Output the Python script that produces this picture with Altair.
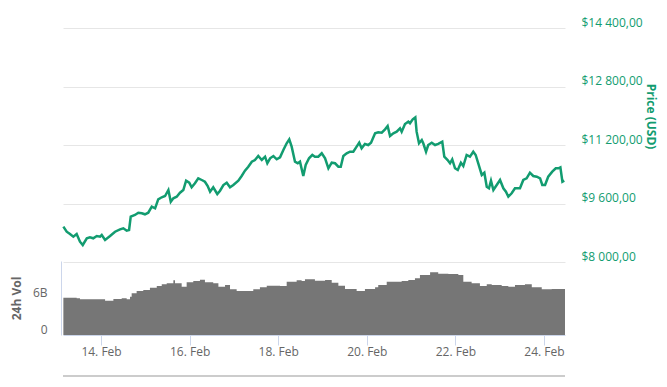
import altair as alt
import pandas as pd

# hours after 2018-02-13 00:00 UTC
price_hours = [3.6, 5.4, 7.2, 9.0, 10.8, 12.6, 14.1, 16.3, 18.0, 19.8, 21.7, 23.5, 24.4, 26.2, 28.9,
               31.6, 34.3, 36.1, 37.9, 39.2, 40.1, 42.4, 44.2, 46.1, 47.8, 49.6, 51.5, 53.3, 55.0,
               56.9, 58.7, 60.5, 61.8, 63.2, 65.0, 66.8, 68.6, 70.1, 71.8, 73.1, 74.9, 76.7, 78.6,
               80.3, 81.8, 83.1, 84.8, 87.0, 88.5, 90.3, 92.1, 93.9, 95.7, 98.4, 100.2, 102.0, 103.8,
               105.7, 107.4, 109.2, 111.1, 112.9, 114.1, 115.6, 117.4, 119.2, 121.0, 122.8, 124.6,
               126.0, 127.3, 129.1, 130.6, 131.8, 133.6, 134.9, 136.7, 138.5, 139.9, 141.7, 143.6,
               145.4, 147.2, 149.0, 150.8, 152.6, 153.9, 155.3, 157.1, 158.9, 160.7, 162.5, 163.9,
               165.2, 167.0, 168.8, 170.3, 172.5, 174.2, 176.1, 177.9, 179.3, 180.6, 182.4, 184.2,
               186.0, 186.9, 188.7, 190.5, 191.4, 192.9, 194.3, 195.0, 196.3, 197.8, 198.6, 200.1,
               201.3, 203.2, 205.0, 206.7, 208.9, 210.0, 211.8, 213.1, 214.3, 215.8, 217.3, 219.0,
               220.3, 222.1, 223.9, 225.7, 227.0, 228.4, 230.3, 231.7, 233.0, 234.2, 235.3, 236.6,
               238.4, 240.2, 242.0, 243.4, 244.7, 246.5, 248.3, 251.0, 252.8, 254.6, 256.4, 258.2,
               260.1, 261.9, 263.1, 264.6, 266.3, 268.5, 270.4, 271.8, 272.9, 274.0, 275.0]
price_usd = [8966, 8829, 8766, 8692, 8766, 8555, 8465, 8648, 8676, 8648, 8711, 8692, 8739, 8602, 8711,
             8829, 8894, 8922, 8856, 8875, 9239, 9286, 9348, 9332, 9305, 9348, 9513, 9469, 9715,
             9770, 9805, 9969, 9649, 9742, 9786, 9895, 9969, 10224, 10169, 10043, 10153, 10289, 10243,
             10196, 10079, 9923, 10043, 9860, 9950, 10106, 10169, 10043, 10106, 10224, 10352, 10497, 10607,
             10743, 10790, 10899, 10790, 10880, 10700, 10836, 10899, 10809, 10864, 11063, 11247,
             11356, 11154, 10743, 10700, 10743, 10352, 10653, 10836, 10927, 10880, 10880, 10973,
             10836, 10563, 10716, 10700, 10607, 10607, 10899, 10973, 11017, 11017, 11154, 11263,
             11110, 11227, 11200, 11263, 11520, 11547, 11537, 11629, 11720, 11446, 11520, 11564,
             11657, 11564, 11774, 11837, 11794, 11903, 11958, 11564, 11247, 11337, 11247, 11017,
             11200, 11263, 11200, 11230, 11290, 10880, 10790, 10700, 10809, 10563, 10516, 10716,
             10626, 10927, 10880, 11017, 10927, 10700, 10380, 10442, 10060, 10016, 10224, 9969,
             10106, 10243, 10016, 9923, 9786, 9879, 10016, 10016, 10243, 10289, 10442, 10352,
             10333, 10289, 10106, 10106, 10333, 10470, 10563, 10563, 10590, 10196, 10224]

vol_hours = [3.6, 10.8, 12.6, 19.8, 26.2, 30.7, 35.2, 37.9, 39.7, 40.6, 43.3, 46.9, 50.5, 54.2, 56.9,
             59.6, 63.2, 64.1, 67.7, 70.4, 74.0, 77.6, 80.3, 84.8, 87.6, 91.2, 93.9, 97.5, 101.1,
             106.5, 110.1, 113.8, 121.0, 124.6, 130.0, 132.7, 134.5, 139.9, 145.4, 149.0, 152.6,
             156.2, 162.5, 167.0, 172.5, 174.2, 178.8, 186.9, 190.5, 194.1, 196.8, 202.3, 206.7,
             212.2, 217.6, 220.3, 224.8, 229.3, 233.0, 235.7, 241.1, 244.7, 248.3, 253.7, 257.4,
             262.8, 268.2, 275.4]
vol_billion = [6.20, 6.10, 5.93, 5.93, 5.70, 5.98, 6.10, 5.93, 6.37, 6.93, 7.31, 7.48, 7.86, 8.14, 8.43,
               8.59, 9.09, 8.59, 8.03, 8.76, 8.97, 9.19, 8.76, 8.59, 8.03, 8.31, 7.60, 7.31, 7.31,
               7.60, 7.93, 8.19, 8.14, 8.86, 9.09, 8.97, 9.26, 9.02, 9.14, 8.69, 8.19,
               7.65, 7.31, 7.65, 7.93, 8.31, 8.86, 8.97, 9.14, 9.42, 9.97, 10.42, 10.19,
               10.14, 9.97, 8.86, 8.59, 8.14, 8.43, 8.31, 8.14, 8.03, 8.31, 8.43, 7.93,
               7.60, 7.65, 7.65]

price_ticks = [8000, 9600, 11200, 12800, 14400]
vol_ticks = [0, 6e9]
date_ticks = [14, 16, 18, 20, 22, 24]

START_MS = pd.Timestamp("2018-02-13T00:00:00Z").value // 10**6
H = 3600 * 1000

price_df = pd.DataFrame({"t": [START_MS + h * H for h in price_hours], "price": price_usd})
vol_df = pd.DataFrame({"t": [START_MS + h * H for h in vol_hours],
                       "vol": [v * 1e9 for v in vol_billion]})

x_domain = [START_MS + 3.4 * H, START_MS + 275.4 * H]
x_scale = alt.Scale(type="utc", domain=x_domain, nice=False)
x_axis = alt.Axis(
    values=[alt.DateTime(year=2018, month=2, date=d, utc=True) for d in date_ticks],
    labelExpr="replace(utcFormat(datum.value, '%d. %b'), /^0/, '')",
    title=None, grid=False,
    domainColor="#ccd6eb", tickColor="#ccd6eb", tickSize=10, labelPadding=1,
    labelColor="#666666", labelFontSize=12, labelFont="Open Sans", labelFlush=False,
)

GREEN = "#129c70"

W, PH = 502, 307

volume = alt.Chart(vol_df).mark_area(color="#767676", opacity=1, interpolate="step-after").encode(
    x=alt.X("t:T", scale=x_scale, axis=x_axis),
    y=alt.Y("vol:Q", scale=alt.Scale(domain=[0, 12.3e9], range=[307, 233], nice=False, zero=True),
            axis=alt.Axis(orient="left", values=vol_ticks,
                          labelExpr="datum.value == 0 ? '0' : (datum.value / 1e9) + 'B'",
                          grid=False, ticks=False, domain=True, domainColor="#ccd6eb",
                          offset=2, labelPadding=14, labelOffset=-6,
                          labelColor="#666666", labelFontSize=12, labelFont="Open Sans",
                          title="24h Vol", titleAngle=270, titleX=-45, titleY=270,
                          titleAlign="center", titleBaseline="middle",
                          titleColor="#666666", titleFontSize=12, titleFont="Open Sans",
                          titleFontWeight="bold")),
)

price = alt.Chart(price_df).mark_line(color=GREEN, strokeWidth=2.5).encode(
    x=alt.X("t:T", scale=x_scale, axis=x_axis),
    y=alt.Y("price:Q", scale=alt.Scale(domain=[8000, 14400], range=[234, 0], nice=False, zero=False),
            axis=alt.Axis(orient="right", values=price_ticks,
                          labelExpr="'$' + replace(replace(format(datum.value, ',.2f'), ',', ' '), '.', ',')",
                          grid=True, gridColor="#e6e6e6", gridWidth=1, ticks=False, domain=False,
                          labelPadding=16, labelOffset=-6, labelAlign="left",
                          labelColor=GREEN, labelFontSize=12, labelFont="Open Sans",
                          title="Price (USD)", titleAngle=90, titleX=85, titleY=88,
                          titleAlign="center", titleBaseline="middle",
                          titleColor=GREEN, titleFontSize=12, titleFont="Open Sans",
                          titleFontWeight="bold")),
)

navigator = alt.Chart(price_df).mark_rule(color="#cccccc", strokeWidth=2).encode(
    x=alt.value(0), x2=alt.value(W), y=alt.value(348)
)

chart = alt.layer(volume, price, navigator).resolve_scale(y="independent").resolve_axis(
    y="independent"
).properties(
    width=W, height=PH,
    autosize=alt.AutoSizeParams(type="none"),
    padding={"left": 55, "top": 20, "right": 93, "bottom": 42},
).configure_view(stroke=None)

chart.save("out.html", embed_options={"renderer": "svg", "actions": False})
